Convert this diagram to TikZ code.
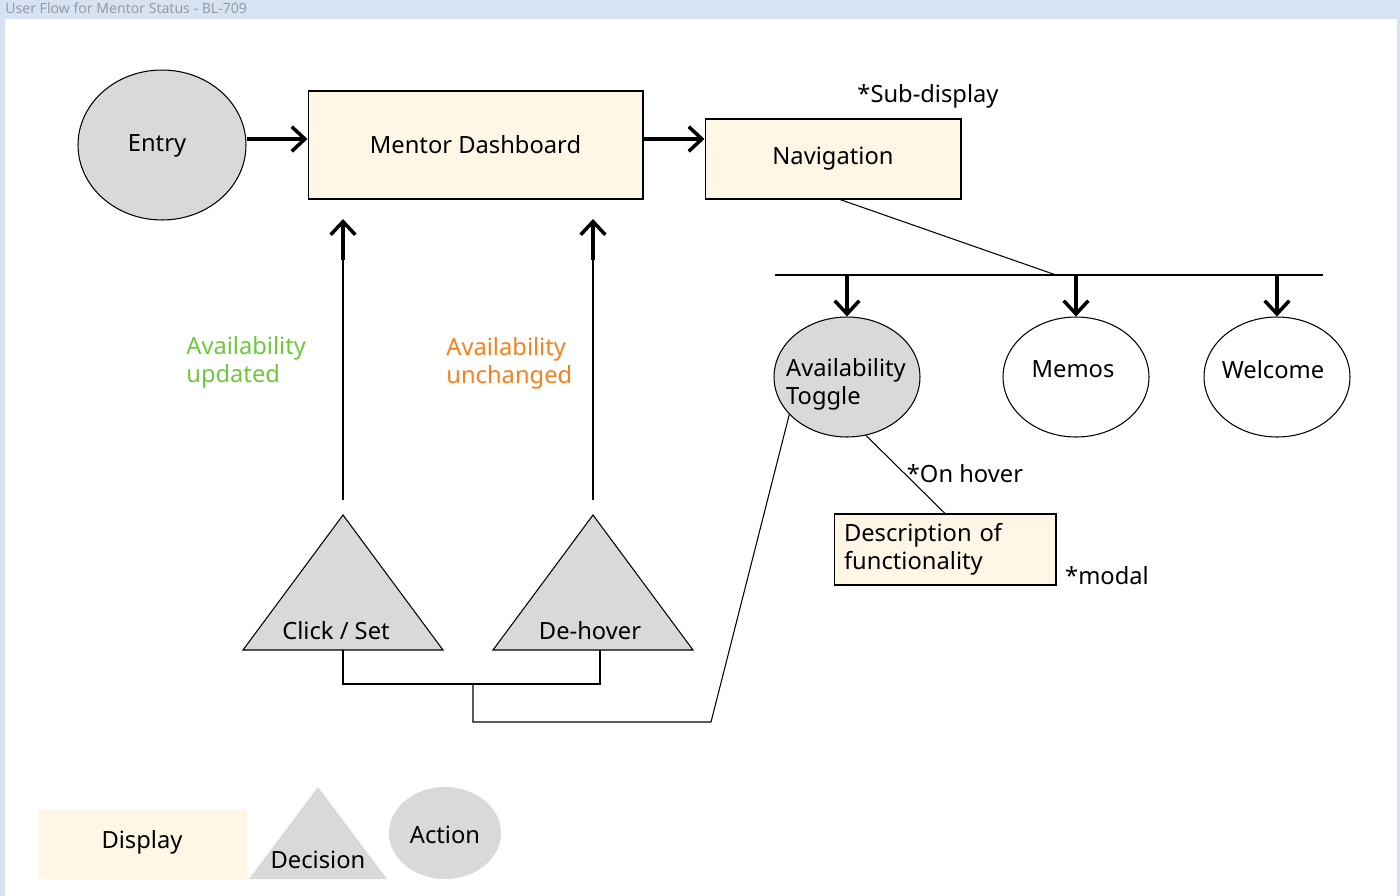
\documentclass[tikz,border=0pt]{standalone}
\usepackage{fontspec}
\setmainfont{Noto Sans}
\usetikzlibrary{shapes.geometric, arrows.meta}
\definecolor{displayfill}{RGB}{255,246,229}
\definecolor{actionfill}{RGB}{217,217,217}
\definecolor{framebg}{RGB}{215,227,242}
\definecolor{updgreen}{RGB}{110,200,60}
\definecolor{keeporange}{RGB}{245,130,30}
\definecolor{titlegray}{RGB}{150,155,165}

\begin{document}
\begin{tikzpicture}[x=0.02cm, y=-0.02cm, font=\fontsize{13.5}{16}\selectfont,
    display/.style={draw, fill=displayfill, line width=0.6pt, rectangle, inner sep=0pt},
    action/.style={draw, fill=actionfill, ellipse, line width=0.6pt, inner sep=0pt, minimum width=2.92cm, minimum height=2.4cm},
    screen/.style={action, fill=white},
    decision/.style={draw, fill=actionfill, line width=0.6pt},
    link/.style={line width=0.6pt},
    flow/.style={line width=2pt, -{Straight Barb[length=7.5pt,width=14pt]}}]
    \useasboundingbox (0, 0) rectangle (1400, 896);
    \fill[framebg] (0, 0) rectangle (1400, 896);
    \fill[white] (5, 19) rectangle (1397, 896);
    \node[anchor=west, text=titlegray, inner sep=0pt, font=\fontsize{8}{9}\selectfont] (title) at (5, 8) {User Flow for Mentor Status - BL-709};

    % Top row
    \node[action, minimum width=3.36cm, minimum height=3cm] (entry) at (162, 145) {};
    \node (entrytext) at (157, 146) {Entry};
    \node[display, minimum width=6.7cm, minimum height=2.16cm] (dash) at (475.5, 145) {Mentor Dashboard};
    \node[display, minimum width=5.12cm, minimum height=1.6cm] (nav) at (833, 159) {Navigation};
    \node (subdisp) at (928, 96) {*Sub-display};

    \draw[flow] ([yshift=0.12cm]entry.east) -- ([yshift=0.12cm]dash.west);
    \draw[flow] ([yshift=0.12cm]dash.east) -- ([yshift=0.12cm]dash.east -| nav.west);

    % Sub-displays
    \coordinate (busL) at (775, 275);
    \coordinate (busR) at (1323, 275);
    \draw[link] (busL) -- (busR);
    \draw[link] ([xshift=0.14cm]nav.south) -- (1056, 275);
    \node[action] (toggle) at (847, 377) {};
    \node[align=left] (togtext) at (846, 384) {Availability\\Toggle};
    \node[screen] (memos) at (1076, 377) {};
    \node (memtext) at (1073, 369) {Memos};
    \node[screen] (welcome) at (1277, 377) {};
    \node (weltext) at (1273, 370) {Welcome};
    \foreach \n in {toggle, memos, welcome}
        \draw[flow] (\n.north |- busL) -- (\n.north);

    % Hover modal
    \node[display, minimum width=4.44cm, minimum height=1.42cm, text width=4.04cm, align=left] (desc) at (945, 549.5) {Description of\\functionality};
    \draw[link] (toggle.288) -- (desc.north);
    \node (hover) at (965, 474) {*On hover};
    \node (modal) at (1107, 576) {*modal};

    % Decisions
    \draw[decision] (343, 515) coordinate (clickapex) -- (443, 650) -- (243, 650) -- cycle;
    \draw[decision] (593, 515) coordinate (hoverapex) -- (693, 650) -- (493, 650) -- cycle;
    \node (click) at (336, 631) {Click / Set};
    \node (dehover) at (590, 631) {De-hover};

    % Back to dashboard
    \foreach \a in {clickapex, hoverapex} {
        \draw[link] ([yshift=0.3cm]\a) -- (\a |- 0, 258);
        \draw[flow] (\a |- 0, 260) -- (\a |- 0, 219);
    }
    \node[anchor=west, align=left, text=updgreen, inner sep=0pt] (upd) at (186, 362) {Availability\\updated};
    \node[anchor=west, align=left, text=keeporange, inner sep=0pt] (keep) at (446, 363) {Availability\\unchanged};

    % Trigger from toggle
    \coordinate (clickbase) at (343, 650);
    \coordinate (hoverbase) at (600, 650);
    \coordinate (join) at (473, 684);
    \draw[link] (clickbase) -- (343, 684) -- (600, 684) -- (hoverbase);
    \draw[link] (join) -- (473, 722) -- (711, 722) -- (toggle.213);

    % Legend
    \node[fill=displayfill, minimum width=4.18cm, minimum height=1.38cm] (legdisplay) at (142.5, 844.5) {};
    \node (legdisptext) at (142, 842) {Display};
    \fill[actionfill] (318, 787) coordinate (legapex) -- (387, 879) -- (249, 879) -- cycle;
    \node (legdecision) at (318, 860) {Decision};
    \node[fill=actionfill, ellipse, minimum width=2.24cm, minimum height=1.84cm] (legaction) at (445, 833) {};
    \node (legacttext) at (445, 835) {Action};
\end{tikzpicture}
\end{document}
